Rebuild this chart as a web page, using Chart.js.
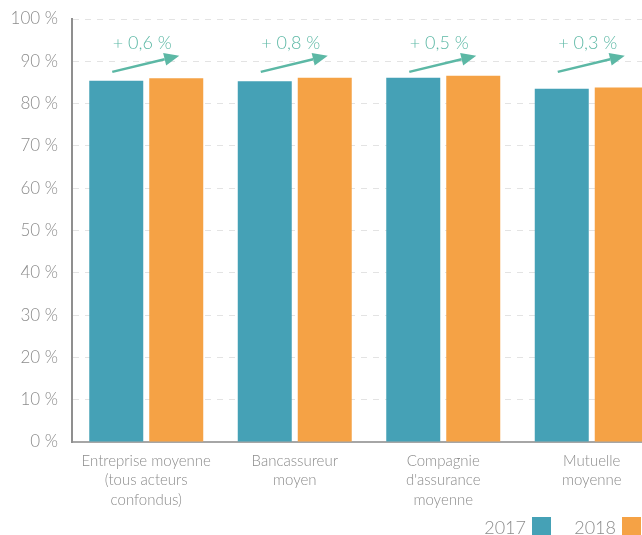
<!DOCTYPE html>
<html>
<head>
<meta charset="utf-8">
<script src="https://cdn.jsdelivr.net/npm/chart.js@4"></script>
<style>
  html, body { margin: 0; padding: 0; background: #fff; overflow: hidden; }
  #wrap { width: 670px; height: 535px; }
</style>
</head>
<body>
<div id="wrap"><canvas id="chart"></canvas></div>
<script>
// Taux par type d'acteur, 2017 vs 2018
const categories = [
    ['Entreprise moyenne', '(tous acteurs', 'confondus)'],
    ['Bancassureur', 'moyen'],
    ['Compagnie', "d'assurance", 'moyenne'],
    ['Mutuelle', 'moyenne']
];
const years = ['2017', '2018'];
const values2017 = [85.4, 85.3, 86.1, 83.5];
const values2018 = [86.0, 86.1, 86.6, 83.8];

const TEAL = '#45a1b6';
const ORANGE = '#f5a245';
const GREEN = '#5cb8a5';
const GREY = '#8c8c8c';
const FONT = 'Lato, "Open Sans", sans-serif';

// Arrow + "+ x,x %" above each pair of bars
const evolutionPlugin = {
    id: 'evolution',
    afterDatasetsDraw(chart) {
        const ctx = chart.ctx;
        const y = chart.scales.y;
        const a = chart.getDatasetMeta(0).data;
        const b = chart.getDatasetMeta(1).data;
        ctx.save();
        a.forEach(function(bar, i) {
            const diff = values2018[i] - values2017[i];
            const label = '+ ' + diff.toFixed(1).replace('.', ',') + ' %';
            const x0 = bar.x - 4, y0 = y.getPixelForValue(87.5);
            const x1 = b[i].x + 3, y1 = y.getPixelForValue(91.3);
            const ang = Math.atan2(y1 - y0, x1 - x0);
            const head = 15, half = 6.5;
            const bx = x1 - head * Math.cos(ang), by = y1 - head * Math.sin(ang);

            ctx.strokeStyle = GREEN;
            ctx.fillStyle = GREEN;
            ctx.lineWidth = 2.5;
            ctx.beginPath();
            ctx.moveTo(x0, y0);
            ctx.lineTo(bx, by);
            ctx.stroke();
            ctx.beginPath();
            ctx.moveTo(x1, y1);
            ctx.lineTo(bx + half * Math.sin(ang), by - half * Math.cos(ang));
            ctx.lineTo(bx - half * Math.sin(ang), by + half * Math.cos(ang));
            ctx.closePath();
            ctx.fill();

            const cx = (bar.x + b[i].x) / 2 - 4;
            ctx.font = '300 18px ' + FONT;
            ctx.textAlign = 'center';
            ctx.textBaseline = 'middle';
            ctx.fillText(label, cx, y.getPixelForValue(94.4));
        });
        ctx.restore();
    }
};

// Legend: label then colour square, bottom right
const legendPlugin = {
    id: 'sideLegend',
    afterDraw(chart) {
        const ctx = chart.ctx;
        const colors = [TEAL, ORANGE];
        const right = [551, 641];
        ctx.save();
        ctx.font = '300 18px ' + FONT;
        ctx.textAlign = 'right';
        ctx.textBaseline = 'alphabetic';
        years.forEach(function(yr, i) {
            ctx.fillStyle = colors[i];
            ctx.fillRect(right[i] - 19, 517, 19, 19);
            ctx.fillStyle = GREY;
            ctx.fillText(yr, right[i] - 25, 534);
        });
        ctx.restore();
    }
};

new Chart(document.getElementById('chart'), {
    type: 'bar',
    data: {
        labels: categories,
        datasets: [{
            label: years[0],
            data: values2017,
            backgroundColor: TEAL
        }, {
            label: years[1],
            data: values2018,
            backgroundColor: ORANGE
        }]
    },
    options: {
        responsive: true,
        maintainAspectRatio: false,
        animation: false,
        layout: { padding: { top: 19, right: 4, left: 0, bottom: 0 } },
        datasets: {
            bar: { barPercentage: 0.9, categoryPercentage: 0.808 }
        },
        plugins: {
            legend: { display: false },
            tooltip: { enabled: false }
        },
        scales: {
            x: {
                grid: { display: false },
                border: { display: true, color: '#a6a6a6', width: 2 },
                ticks: {
                    color: GREY,
                    padding: 1,
                    maxRotation: 0,
                    autoSkip: false,
                    font: { family: FONT, size: 15, weight: '300', lineHeight: 1.3 }
                },
                afterFit: function(scale) { scale.height = 93; }
            },
            y: {
                min: 0,
                max: 100,
                // invisible tick marks keep the labels 14px off the axis
                grid: { color: '#e3e3e3', drawTicks: true, tickLength: 14, tickColor: 'rgba(0,0,0,0)', lineWidth: 1 },
                border: { display: true, color: '#8f8f8f', width: 2, dash: [6, 6] },
                ticks: {
                    stepSize: 10,
                    color: GREY,
                    padding: 0,
                    font: { family: FONT, size: 17, weight: '300' },
                    callback: function(v) { return v + ' %'; }
                },
                afterFit: function(scale) { scale.width = 72; }
            }
        }
    },
    plugins: [evolutionPlugin, legendPlugin]
});
</script>
</body>
</html>
